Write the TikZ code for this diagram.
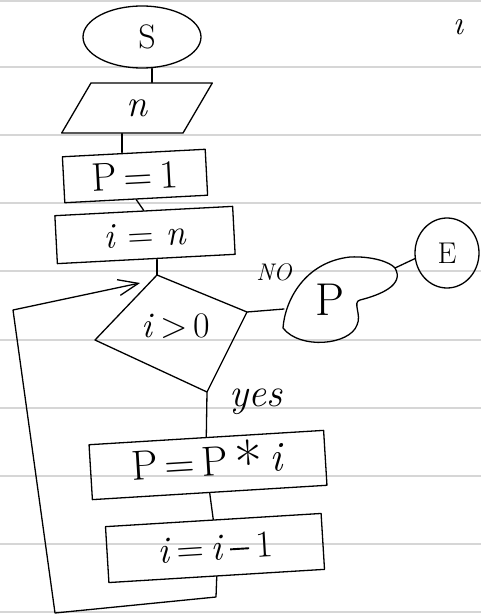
\documentclass[tikz,border=0pt]{standalone}
\usepackage{fontspec}
\usetikzlibrary{shapes.geometric,arrows.meta,calc}
\definecolor{rulegray}{RGB}{214,214,214}
\newcommand{\vi}[1]{\textit{#1}}
\newcommand{\myminus}{\raisebox{0.24em}{\rule{0.5em}{0.05em}}}
\newcommand{\mystar}{\raisebox{-0.28em}{\fontsize{60}{60}\selectfont *}}
\begin{document}
\begin{tikzpicture}[x=1pt,y=1pt,
  ink/.style={line width=1.3pt, black, line join=round, line cap=round},
  box/.style={ink, draw, rectangle, inner sep=0pt},
  rule/.style={line width=1.6pt, rulegray},
  fs/.style={font=\fontsize{#1}{#1}\selectfont}]
\path[use as bounding box] (0,0) rectangle (481,-615);
% ruled paper
\foreach \y in {1,67,135,203,271,340,408,476,544,612}
  \draw[rule] (0,-\y) -- (481,-\y);

% start
\node[ink,draw,ellipse,minimum width=118pt,minimum height=62pt,inner sep=0pt,fs=34] (S) at (142,-37) {\hspace{10pt}S};
% input n
\node[ink,draw,trapezium,trapezium left angle=68,trapezium right angle=112,
      trapezium stretches=true,minimum width=151pt,minimum height=50pt,inner sep=0pt,fs=38] (n) at (137,-108) {\vi{n}};
% P=1
\node[box,minimum width=143pt,minimum height=46pt,rotate=3,fs=40] (P1) at (135,-176) {P\,=\,1\hspace{18pt}};
% i=n
\node[box,minimum width=178pt,minimum height=48pt,rotate=3,fs=36] (in) at (145,-235) {\vi{i}\,\,=\,\,\vi{n}};
% decision
\coordinate (dT) at (157,-275);
\coordinate (dR) at (247,-312);
\coordinate (dB) at (207,-392);
\coordinate (dL) at (95,-340);
\draw[ink] (dT) -- (dR) -- (dB) -- (dL) -- cycle;
\node[fs=36] (dec) at (176,-326) {\vi{i}\,>\,0};
% output blob
\draw[ink] (283,-328) .. controls (285,-300) and (305,-262) .. (350,-257)
  .. controls (372,-256) and (390,-262) .. (395,-268)
  .. controls (405,-285) and (380,-295) .. (360,-300)
  .. controls (352,-302) and (362,-315) .. (357,-325)
  .. controls (350,-345) and (300,-350) .. (283,-328) -- cycle;
\node[fs=46] (out) at (330,-300) {P};
\coordinate (bl) at (284,-309);
\coordinate (J) at (395,-268);
% end
\node[ink,draw,ellipse,minimum width=64pt,minimum height=70pt,inner sep=0pt,fs=30] (E) at (447,-253) {E};
% process boxes
\node[box,minimum width=235pt,minimum height=55pt,rotate=3.5,fs=42] (PP) at (208,-465) {P\,=\,P\,\mystar\,\vi{i}\hspace{18pt}};
\node[box,minimum width=216pt,minimum height=56pt,rotate=3.5,fs=38] (ii) at (215,-548) {\vi{i}\,=\,\vi{i}\,\myminus\,1};
\coordinate (loopin) at (140,-283);

% labels
\node[font=\itshape\fontsize{24}{24}\selectfont] (no) at (274,-272) {NO};
\node[font=\itshape\fontsize{40}{40}\selectfont] (yes) at (256,-402) {yes};
\node[font=\itshape\fontsize{34}{34}\selectfont] (tr) at (458,-27) {\i};

% connectors
\draw[ink] (n.top side) -- (n.top side |- S.south);
\draw[ink] (n.bottom side) -- (n.bottom side |- P1.north);
\draw[ink] (P1.south) -- (in.north);
\draw[ink] (dT |- in.south) -- (dT);
\draw[ink] (dR) -- (bl);
\draw[ink] (J) -- (E.190);
\draw[ink] (dB) -- (PP.north);
\draw[ink] (PP.south) -- (ii.north);
\draw[ink,-{Straight Barb[length=20pt,width=16pt]}] (ii.south) -- (216,-597) -- (55,-613) -- (13,-310) -- (loopin);
\end{tikzpicture}
\end{document}
